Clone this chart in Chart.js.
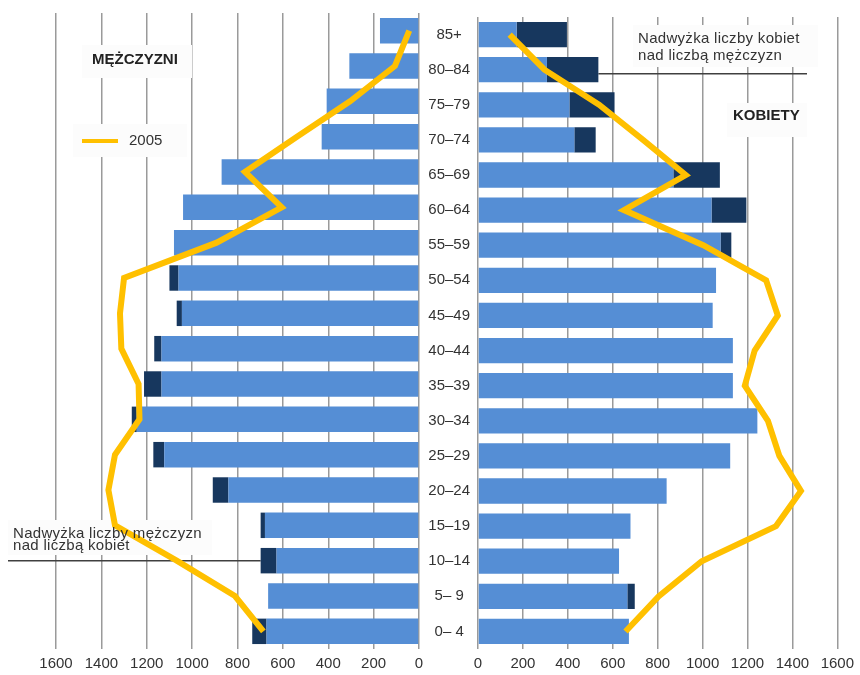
<!DOCTYPE html>
<html>
<head>
<meta charset="utf-8">
<script src="https://cdn.jsdelivr.net/npm/chart.js@4.4.0/dist/chart.umd.min.js"></script>
<style>
  body { margin: 0; background: #fff; }
  #wrap { position: relative; width: 860px; height: 675px; overflow: hidden;
          font-family: "Liberation Sans", Arial, sans-serif; color: #333; }
  canvas { position: absolute; top: 0; }
  .note { position: absolute; font-size: 15px; white-space: nowrap; letter-spacing: 0.3px; }
  .title { position: absolute; font-size: 15px; font-weight: bold; color: #222; line-height: 17px; white-space: nowrap; }
</style>
</head>
<body>
<div id="wrap">
  <canvas id="menChart" width="430" height="675" style="left:0;width:430px;height:675px"></canvas>
  <canvas id="womenChart" width="440" height="675" style="left:420px;width:440px;height:675px"></canvas>

  <div class="title" style="left:92px;top:50px">MĘŻCZYZNI</div>
  <div class="title" style="left:733px;top:106px">KOBIETY</div>

  <div style="position:absolute;left:82px;top:139px;width:36px;height:4px;background:#FFC000"></div>
  <div style="position:absolute;left:129px;top:131px;font-size:15px;line-height:17px">2005</div>

  <div class="note" style="left:638px;top:29px;line-height:17.3px">Nadwyżka liczby kobiet<br>nad liczbą mężczyzn</div>
  <div class="note" style="left:13px;top:527px;line-height:11.7px">Nadwyżka liczby mężczyzn<br>nad liczbą kobiet</div>
</div>

<script>
// age groups, top of the pyramid first
const ageGroups = ['85+', '80–84', '75–79', '70–74', '65–69', '60–64', '55–59', '50–54', '45–49',
                   '40–44', '35–39', '30–34', '25–29', '20–24', '15–19', '10–14', '5– 9', '0– 4'];

// population (thousands)
const men   = [172, 307, 407, 429, 870, 1040, 1080, 1100, 1068, 1167, 1212, 1266, 1171, 909, 698, 698, 665, 735];
const women = [396, 536, 608, 524, 1077, 1195, 1128, 1060, 1045, 1135, 1135, 1244, 1123, 840, 679, 628, 698, 672];

// 2005 line
const men2005   = [43, 106, 304, 538, 767, 605, 892, 1300, 1318, 1312, 1236, 1232, 1340, 1369, 1340, 1068, 811, 686];
const women2005 = [141, 296, 539, 735, 925, 650, 1003, 1283, 1335, 1232, 1188, 1291, 1342, 1438, 1327, 996, 804, 657];

const xTicks = [0, 200, 400, 600, 800, 1000, 1200, 1400, 1600];

const FONT = '"Liberation Sans", Arial, sans-serif';
const LIGHT = '#558ED5';
const DARK = '#17375E';
const GOLD = '#FFC000';

function makeDatasets(own, other, line) {
    // common part in light blue, surplus over the other sex in dark blue
    let common = own.map((v, i) => Math.min(v, other[i]));
    let excess = own.map((v, i) => Math.max(v - other[i], 0));
    return [
        {
            type: 'line', label: '2005', data: line, indexAxis: 'y',
            borderColor: GOLD, borderWidth: 6, pointRadius: 0, tension: 0,
            borderJoinStyle: 'miter', clip: false, stack: 'line', order: 0
        },
        { label: 'common', data: common, backgroundColor: LIGHT, stack: 'bars', order: 1,
          barPercentage: 0.72, categoryPercentage: 1 },
        { label: 'excess', data: excess, backgroundColor: DARK, stack: 'bars', order: 1,
          barPercentage: 0.72, categoryPercentage: 1 }
    ];
}

function xScale(reverse) {
    return {
        type: 'linear', stacked: true, reverse: reverse, min: 0, max: 1600,
        afterBuildTicks: s => { s.ticks = xTicks.map(v => ({ value: v })); },
        ticks: {
            autoSkip: false, maxRotation: 0, padding: 6, color: '#333',
            font: { size: 15, family: FONT },
            callback: v => String(v)
        },
        grid: { color: '#9a9a9a', lineWidth: 1.5, drawTicks: false },
        border: { display: false },
        afterFit: s => { s.height = 26; }
    };
}

function drawBoxes(ctx, boxes) {
    ctx.fillStyle = '#fcfcfc';
    boxes.forEach(b => ctx.fillRect(b[0], b[1], b[2], b[3]));
}

function drawLeader(ctx, x1, x2, y) {
    ctx.strokeStyle = '#404040';
    ctx.lineWidth = 1.5;
    ctx.beginPath();
    ctx.moveTo(x1, y);
    ctx.lineTo(x2, y);
    ctx.stroke();
}

// left panel: men
new Chart(document.getElementById('menChart'), {
    type: 'bar',
    data: { labels: ageGroups, datasets: makeDatasets(men, women, men2005) },
    options: {
        indexAxis: 'y',
        responsive: false,
        animation: false,
        layout: { padding: { left: 56, right: 11, top: 13, bottom: 0 } },
        plugins: { legend: { display: false }, tooltip: { enabled: false } },
        scales: {
            x: xScale(true),
            y: { stacked: true, display: false }
        }
    },
    plugins: [{
        id: 'menBoxes',
        beforeDatasetsDraw(chart) {
            const ctx = chart.ctx;
            ctx.save();
            drawBoxes(ctx, [[82, 45, 110, 33], [73, 124, 114, 33], [8, 520, 204, 35]]);
            let i = ageGroups.indexOf('10–14');
            let y = chart.scales.y.getPixelForValue(i);
            drawLeader(ctx, 8, chart.scales.x.getPixelForValue(men[i]), y);
            ctx.restore();
        }
    }]
});

// right panel: women, with the age labels on its left side
new Chart(document.getElementById('womenChart'), {
    type: 'bar',
    data: { labels: ageGroups, datasets: makeDatasets(women, men, women2005) },
    options: {
        indexAxis: 'y',
        responsive: false,
        animation: false,
        layout: { padding: { left: 0, right: 20, top: 13, bottom: 0 } },
        plugins: { legend: { display: false }, tooltip: { enabled: false } },
        scales: {
            x: xScale(false),
            y: {
                stacked: true,
                ticks: { crossAlign: 'center', padding: 8, autoSkip: false, color: '#333', font: { size: 15, family: FONT } },
                grid: { display: false, drawTicks: false },
                border: { display: false },
                afterFit: s => { s.width = 58; }
            }
        }
    },
    plugins: [{
        id: 'womenBoxes',
        beforeDatasetsDraw(chart) {
            const ctx = chart.ctx;
            ctx.save();
            drawBoxes(ctx, [[213, 25, 185, 42], [307, 103, 80, 34]]);
            let i = ageGroups.indexOf('80–84');
            let y = chart.scales.y.getPixelForValue(i) + 4;
            drawLeader(ctx, chart.scales.x.getPixelForValue(women[i]), 387, y);
            ctx.restore();
        }
    }]
});
</script>
</body>
</html>
